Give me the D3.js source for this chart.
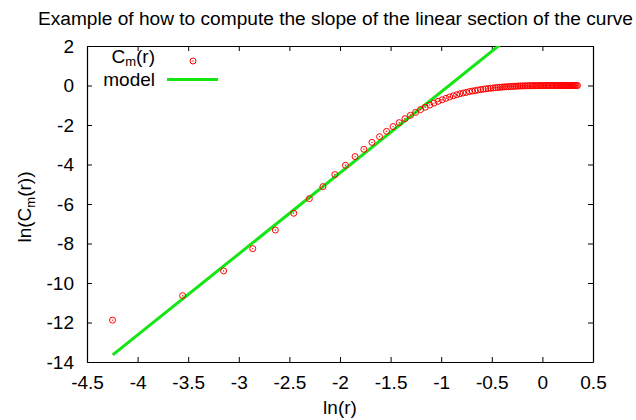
<!DOCTYPE html>
<html>
<head>
<meta charset="utf-8">
<script src="https://cdn.jsdelivr.net/npm/d3@7"></script>
<style>
  html, body { margin: 0; padding: 0; background: #fff; }
  svg { display: block; font-family: "Liberation Sans", Arial, sans-serif; }
</style>
</head>
<body>
<div id="chart"></div>
<script>
// ln(r) for each sample of the correlation sum
const lnR = [
  -4.248, -3.555, -3.150, -2.862, -2.639, -2.457, -2.303, -2.169, -2.051, -1.946,
  -1.851, -1.764, -1.684, -1.609, -1.540, -1.476, -1.415, -1.358, -1.304, -1.253,
  -1.204, -1.157, -1.113, -1.071, -1.030, -0.990, -0.953, -0.916, -0.881, -0.847,
  -0.815, -0.783, -0.752, -0.722, -0.693, -0.665, -0.638, -0.611, -0.585, -0.560,
  -0.535, -0.511, -0.487, -0.464, -0.442, -0.420, -0.398, -0.377, -0.357, -0.336,
  -0.317, -0.297, -0.278, -0.260, -0.241, -0.223, -0.206, -0.188, -0.171, -0.154,
  -0.138, -0.121, -0.105, -0.090, -0.074, -0.059, -0.044, -0.029, -0.014, 0.000,
  0.014, 0.028, 0.042, 0.056, 0.069, 0.082, 0.095, 0.108, 0.121, 0.134,
  0.146, 0.158, 0.170, 0.182, 0.194, 0.206, 0.217, 0.229, 0.240, 0.251,
  0.262, 0.273, 0.284, 0.295, 0.305, 0.316, 0.326, 0.336, 0.347
];
// ln(C_m(r))
const lnC = [
  -11.88, -10.64, -9.39, -8.26, -7.32, -6.47, -5.73, -5.12, -4.51, -4.04,
  -3.60, -3.23, -2.88, -2.59, -2.32, -2.08, -1.88, -1.68, -1.51, -1.36,
  -1.22, -1.10, -0.99, -0.89, -0.80, -0.72, -0.65, -0.58, -0.52, -0.47,
  -0.42, -0.38, -0.35, -0.31, -0.28, -0.26, -0.23, -0.21, -0.19, -0.17,
  -0.155, -0.14, -0.125, -0.11, -0.10, -0.09, -0.08, -0.07, -0.065, -0.058,
  -0.052, -0.046, -0.040, -0.035, -0.028, -0.025, -0.022, -0.019, -0.017, -0.015,
  -0.013, -0.011, -0.010, -0.009, -0.008, -0.007, -0.006, -0.005, -0.004, -0.004,
  -0.003, -0.003, -0.002, -0.002, -0.001, -0.001, -0.001, -0.001, -0.001, -0.001,
  -0.001, -0.001, -0.001, -0.001, -0.001, -0.001, -0.001, -0.001, 0, 0,
  0, 0, 0, 0, 0, 0, 0, 0, 0
];
// fitted line endpoints (ln r, ln C)
const modelX = [-4.246, 0.35];
const modelY = [-13.64, 5.22];

const xTicks = [-4.5, -4, -3.5, -3, -2.5, -2, -1.5, -1, -0.5, 0, 0.5];
const yTicks = [2, 0, -2, -4, -6, -8, -10, -12, -14];

const W = 636, H = 420;
const m = { left: 87, right: 43, top: 46, bottom: 58 };
const iw = W - m.left - m.right, ih = H - m.top - m.bottom;
const FS = "19px";
const green = "#14e614";

const x = d3.scaleLinear().domain([-4.5, 0.5]).range([0, iw]);
const y = d3.scaleLinear().domain([-14, 2]).range([ih, 0]);

const svg = d3.select("#chart").append("svg").attr("width", W).attr("height", H);

svg.append("text")
  .attr("x", 38).attr("y", 25)
  .attr("textLength", 595).attr("lengthAdjust", "spacingAndGlyphs")
  .style("font-size", "18px")
  .text("Example of how to compute the slope of the linear section of the curve");

const g = svg.append("g").attr("transform", `translate(${m.left},${m.top})`);

svg.append("defs").append("clipPath").attr("id", "clip")
  .append("rect").attr("width", iw).attr("height", ih);

// axes with gnuplot-style inward ticks, mirrored
const fmt = d => String(d);
const axB = g.append("g").attr("transform", `translate(0,${ih})`)
  .call(d3.axisBottom(x).tickValues(xTicks).tickFormat(fmt).tickSizeInner(-5).tickSizeOuter(0).tickPadding(14));
const axT = g.append("g")
  .call(d3.axisTop(x).tickValues(xTicks).tickFormat("").tickSizeInner(-5).tickSizeOuter(0));
const axL = g.append("g")
  .call(d3.axisLeft(y).tickValues(yTicks).tickFormat(fmt).tickSizeInner(-5).tickSizeOuter(0).tickPadding(13));
const axR = g.append("g").attr("transform", `translate(${iw},0)`)
  .call(d3.axisRight(y).tickValues(yTicks).tickFormat("").tickSizeInner(-5).tickSizeOuter(0));

[axB, axT, axL, axR].forEach(a => {
  a.select(".domain").attr("stroke", "#000").attr("stroke-width", 1.2);
  a.selectAll(".tick line").attr("stroke", "#000");
  a.selectAll("text").style("font-size", FS).attr("fill", "#000").style("font-family", "Liberation Sans, Arial, sans-serif");
});

const plot = g.append("g").attr("clip-path", "url(#clip)");

// model line
plot.append("line")
  .attr("x1", x(modelX[0])).attr("y1", y(modelY[0]))
  .attr("x2", x(modelX[1])).attr("y2", y(modelY[1]))
  .attr("stroke", green).attr("stroke-width", 3);

// data points
const pts = plot.selectAll("g.pt").data(lnR.map((v, i) => [v, lnC[i]])).join("g")
  .attr("class", "pt")
  .attr("transform", d => `translate(${x(d[0])},${y(d[1])})`);
pts.append("circle").attr("r", 3).attr("fill", "none").attr("stroke", "#ff0000").attr("stroke-width", 1);
pts.append("circle").attr("r", 0.7).attr("fill", "#ff0000");

// legend
const leg = svg.append("g");
const t1 = leg.append("text").attr("x", 155).attr("y", 63).attr("text-anchor", "end").style("font-size", FS);
t1.append("tspan").text("C");
t1.append("tspan").attr("dy", 3).style("font-size", "13px").text("m");
t1.append("tspan").attr("dy", -3).text("(r)");
leg.append("circle").attr("cx", 193).attr("cy", 61).attr("r", 3).attr("fill", "none").attr("stroke", "#ff0000");
leg.append("circle").attr("cx", 193).attr("cy", 61).attr("r", 0.7).attr("fill", "#ff0000");
leg.append("text").attr("x", 155).attr("y", 86).attr("text-anchor", "end").style("font-size", FS).text("model");
leg.append("line").attr("x1", 167).attr("x2", 218).attr("y1", 79.5).attr("y2", 79.5)
  .attr("stroke", green).attr("stroke-width", 3);

// axis titles
svg.append("text").attr("x", 340).attr("y", 414).attr("text-anchor", "middle")
  .style("font-size", FS).text("ln(r)");

const yl = svg.append("text")
  .attr("transform", "translate(31,207) rotate(-90)")
  .attr("text-anchor", "middle").style("font-size", FS);
yl.append("tspan").text("ln(C");
yl.append("tspan").attr("dy", 4).style("font-size", "13px").text("m");
yl.append("tspan").attr("dy", -4).text("(r))");
</script>
</body>
</html>
